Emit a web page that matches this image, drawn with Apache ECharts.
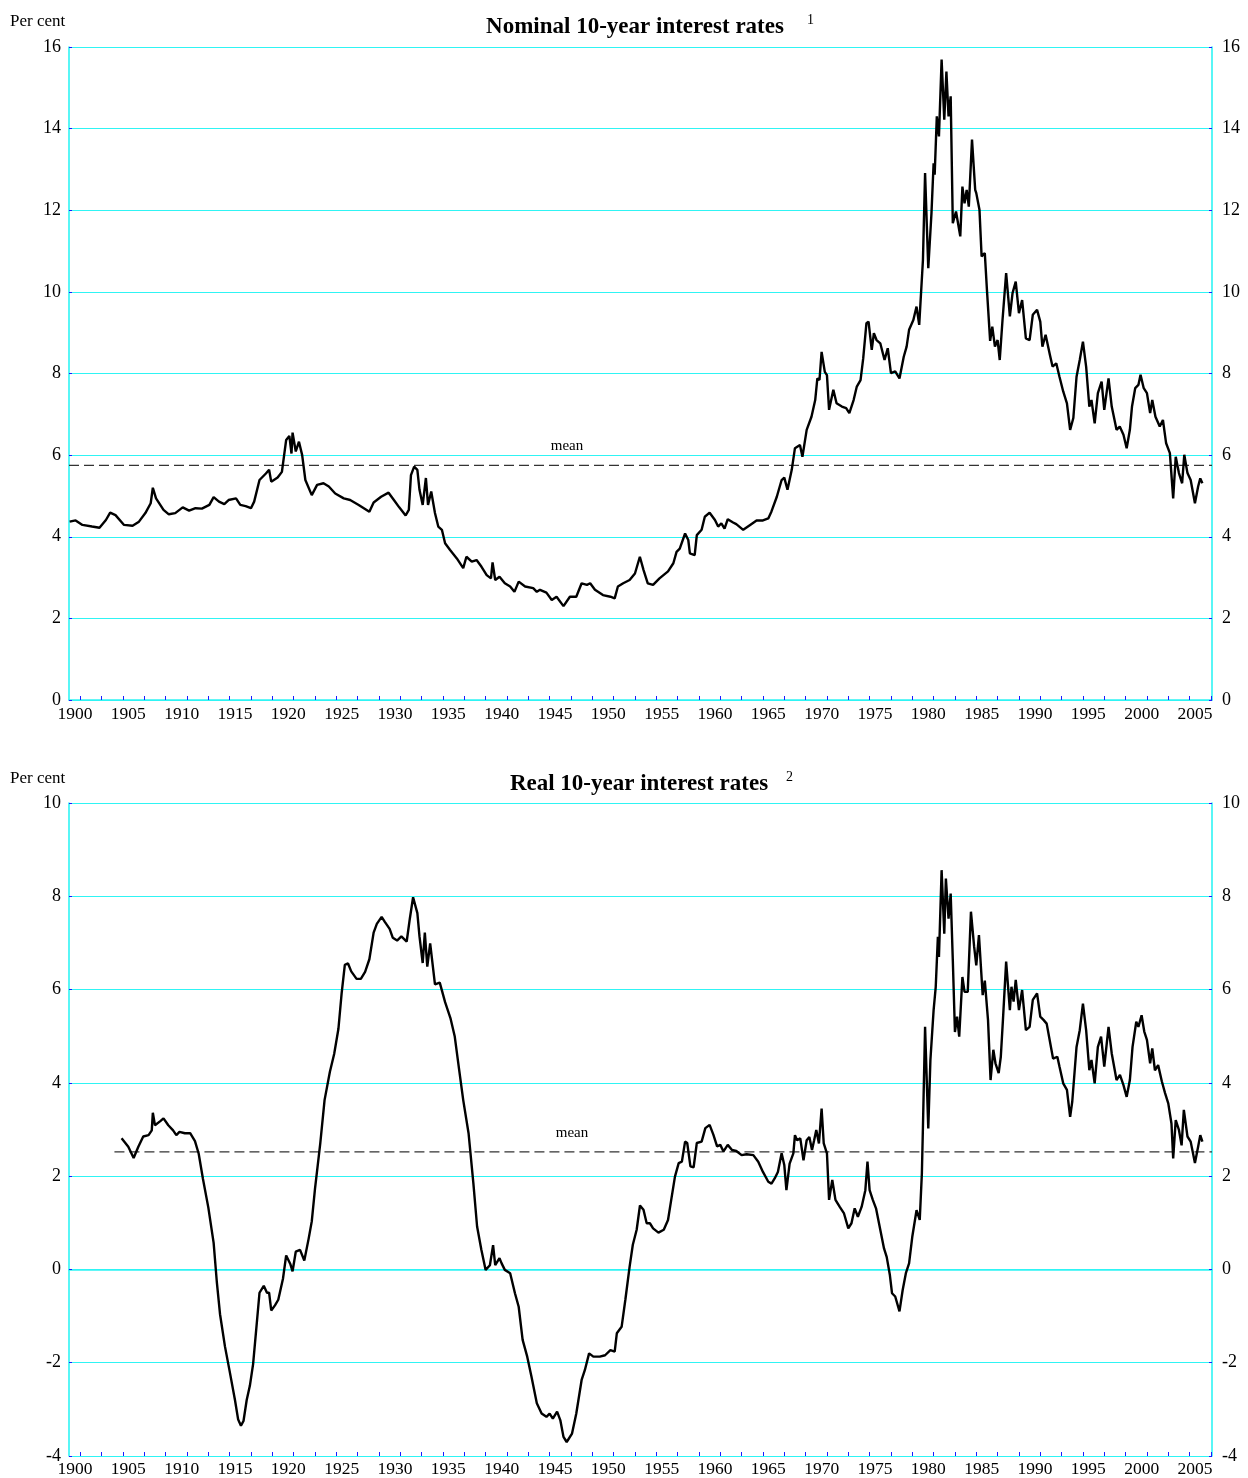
<!DOCTYPE html>
<html><head><meta charset="utf-8">
<script src="https://cdn.jsdelivr.net/npm/echarts@6/dist/echarts.min.js"></script>
<style>html,body{margin:0;padding:0;background:#fff}#c{width:1248px;height:1478px}</style>
</head><body><div id="c"></div>
<script>
// ---------- DATA ----------
const nominalYears = [1899.5,1900.06,1900.7,1901.6,1902.3,1902.9,1903.3,1903.8,1904.6,1905.4,1906.0,1906.6,1907.1,1907.3,1907.6,1908.3,1908.8,1909.4,1910.1,1910.7,1911.3,1911.9,1912.6,1913.0,1913.5,1914.0,1914.4,1915.1,1915.5,1916.0,1916.5,1916.8,1917.3,1917.9,1918.2,1918.4,1919.0,1919.4,1919.8,1920.1,1920.3,1920.4,1920.7,1921.0,1921.3,1921.6,1922.2,1922.7,1923.3,1923.8,1924.4,1925.2,1925.8,1926.6,1927.6,1928.0,1928.7,1929.4,1929.9,1930.4,1931.0,1931.3,1931.5,1931.8,1932.1,1932.3,1932.6,1932.9,1933.1,1933.4,1933.75,1934.06,1934.4,1934.7,1935.15,1935.8,1936.4,1936.7,1937.2,1937.65,1938.1,1938.6,1939.0,1939.15,1939.4,1939.8,1940.3,1940.8,1941.2,1941.6,1942.2,1942.96,1943.3,1943.6,1944.2,1944.7,1945.15,1945.8,1946.4,1947.0,1947.5,1948.0,1948.3,1948.75,1949.5,1950.2,1950.6,1950.9,1951.4,1952.0,1952.5,1952.96,1953.3,1953.7,1954.2,1954.8,1955.6,1956.1,1956.4,1956.7,1957.2,1957.5,1957.65,1958.1,1958.3,1958.75,1959.05,1959.5,1960.0,1960.3,1960.6,1960.9,1961.2,1961.7,1962.0,1962.65,1963.3,1963.9,1964.5,1965.0,1965.3,1965.8,1966.25,1966.5,1966.8,1967.2,1967.5,1967.97,1968.2,1968.6,1969.05,1969.4,1969.6,1969.8,1970.0,1970.3,1970.5,1970.7,1971.1,1971.4,1971.9,1972.3,1972.6,1973.0,1973.3,1973.65,1973.9,1974.2,1974.4,1974.7,1974.9,1975.15,1975.5,1975.9,1976.2,1976.5,1976.9,1977.3,1977.7,1977.97,1978.2,1978.6,1978.9,1979.15,1979.5,1979.7,1980.0,1980.3,1980.5,1980.6,1980.8,1981.0,1981.25,1981.5,1981.7,1981.9,1982.1,1982.3,1982.6,1983.0,1983.2,1983.4,1983.6,1983.8,1984.1,1984.4,1984.5,1984.8,1985.0,1985.3,1985.5,1985.8,1986.0,1986.25,1986.5,1986.7,1986.96,1987.3,1987.65,1987.9,1988.2,1988.5,1988.8,1989.15,1989.5,1989.8,1990.2,1990.5,1990.7,1991.0,1991.4,1991.65,1992.0,1992.3,1992.65,1993.0,1993.3,1993.6,1993.9,1994.2,1994.5,1994.8,1995.1,1995.3,1995.6,1995.9,1996.25,1996.5,1996.9,1997.2,1997.65,1997.95,1998.3,1998.6,1998.9,1999.1,1999.4,1999.7,1999.9,2000.2,2000.5,2000.8,2001.0,2001.3,2001.7,2002.0,2002.3,2002.65,2002.96,2003.2,2003.5,2003.8,2004.0,2004.3,2004.6,2005.0,2005.3,2005.5,2005.7];
const nominalRates = [4.37,4.40,4.29,4.25,4.22,4.41,4.59,4.53,4.29,4.27,4.37,4.58,4.82,5.20,4.94,4.66,4.55,4.58,4.72,4.64,4.70,4.69,4.78,4.97,4.86,4.80,4.90,4.94,4.78,4.75,4.70,4.86,5.39,5.55,5.64,5.35,5.45,5.59,6.37,6.47,6.04,6.55,6.09,6.33,6.00,5.39,5.02,5.27,5.31,5.23,5.06,4.94,4.90,4.78,4.61,4.84,4.98,5.08,4.90,4.72,4.52,4.66,5.51,5.72,5.64,5.15,4.78,5.44,4.78,5.11,4.58,4.25,4.17,3.84,3.68,3.47,3.23,3.51,3.39,3.43,3.27,3.06,2.98,3.37,2.94,3.02,2.86,2.78,2.65,2.90,2.78,2.74,2.65,2.70,2.63,2.45,2.53,2.30,2.53,2.53,2.86,2.82,2.86,2.70,2.57,2.53,2.49,2.78,2.86,2.94,3.10,3.51,3.19,2.86,2.82,2.98,3.15,3.35,3.63,3.71,4.08,3.92,3.59,3.55,4.04,4.17,4.49,4.59,4.41,4.25,4.33,4.20,4.43,4.35,4.31,4.17,4.29,4.40,4.40,4.45,4.62,4.98,5.39,5.45,5.15,5.64,6.17,6.25,5.96,6.62,6.94,7.35,7.88,7.84,8.53,8.04,7.96,7.11,7.60,7.27,7.19,7.15,7.03,7.35,7.68,7.84,8.37,9.23,9.27,8.58,8.99,8.82,8.74,8.33,8.62,8.01,8.05,7.88,8.41,8.66,9.07,9.31,9.64,9.19,10.78,12.91,10.58,11.93,13.15,12.87,14.30,13.81,15.69,14.22,15.40,14.30,14.79,11.68,11.97,11.36,12.58,12.17,12.50,12.09,13.73,12.50,12.42,12.01,10.87,10.95,10.05,8.80,9.15,8.66,8.82,8.33,9.31,10.46,9.40,9.97,10.25,9.48,9.80,8.86,8.82,9.44,9.56,9.27,8.66,8.95,8.46,8.17,8.25,7.92,7.56,7.27,6.62,6.91,7.92,8.33,8.78,8.17,7.19,7.35,6.78,7.52,7.80,7.11,7.88,7.19,6.62,6.70,6.50,6.17,6.62,7.19,7.64,7.72,7.97,7.64,7.52,7.03,7.35,6.94,6.70,6.86,6.29,6.05,4.94,5.96,5.56,5.31,6.01,5.56,5.39,4.82,5.23,5.43,5.31];

const realYears = [1904.37,1905.0,1905.5,1905.94,1906.4,1906.9,1907.2,1907.3,1907.5,1908.0,1908.3,1908.75,1909.2,1909.5,1909.8,1910.3,1910.8,1911.25,1911.6,1912.0,1912.5,1913.0,1913.3,1913.6,1914.06,1914.5,1915.0,1915.3,1915.56,1915.8,1916.1,1916.4,1916.7,1917.0,1917.3,1917.7,1918.0,1918.2,1918.4,1918.75,1919.06,1919.5,1919.8,1920.2,1920.4,1920.7,1921.1,1921.5,1921.9,1922.2,1922.5,1923.0,1923.4,1923.9,1924.3,1924.7,1925.0,1925.3,1925.6,1925.9,1926.4,1926.8,1927.2,1927.6,1928.0,1928.3,1928.75,1929.05,1929.5,1929.8,1930.2,1930.6,1931.1,1931.4,1931.7,1932.1,1932.3,1932.6,1932.8,1933.03,1933.3,1933.75,1934.2,1934.7,1935.2,1935.6,1936.0,1936.4,1936.9,1937.35,1937.7,1938.1,1938.5,1938.9,1939.2,1939.4,1939.8,1940.0,1940.3,1940.8,1941.25,1941.6,1941.97,1942.4,1942.8,1943.3,1943.75,1944.2,1944.5,1944.8,1945.2,1945.5,1945.8,1946.1,1946.6,1947.0,1947.5,1947.8,1948.2,1948.6,1949.2,1949.7,1950.2,1950.6,1950.8,1951.25,1951.6,1952.0,1952.3,1952.66,1952.97,1953.3,1953.6,1953.9,1954.2,1954.7,1955.2,1955.6,1955.9,1956.25,1956.6,1956.9,1957.2,1957.4,1957.7,1958.0,1958.3,1958.75,1959.1,1959.5,1959.85,1960.2,1960.5,1960.8,1961.2,1961.6,1962.0,1962.5,1962.97,1963.6,1964.06,1964.5,1965.0,1965.3,1965.6,1965.9,1966.0,1966.25,1966.5,1966.7,1967.0,1967.35,1967.5,1967.7,1968.0,1968.3,1968.6,1968.85,1969.1,1969.3,1969.5,1969.75,1970.0,1970.2,1970.5,1970.7,1971.0,1971.3,1971.7,1972.1,1972.5,1972.8,1973.1,1973.4,1973.75,1974.1,1974.3,1974.5,1974.8,1975.1,1975.5,1975.85,1976.1,1976.4,1976.6,1976.9,1977.3,1977.6,1977.9,1978.2,1978.5,1978.9,1979.2,1979.4,1979.5,1979.7,1980.0,1980.2,1980.5,1980.7,1980.9,1981.0,1981.25,1981.5,1981.65,1981.9,1982.1,1982.3,1982.5,1982.7,1982.9,1983.2,1983.4,1983.7,1984.0,1984.3,1984.5,1984.75,1985.1,1985.3,1985.6,1985.84,1986.1,1986.3,1986.6,1986.8,1987.0,1987.3,1987.65,1987.8,1988.0,1988.2,1988.5,1988.8,1989.15,1989.5,1989.8,1990.2,1990.5,1990.8,1991.1,1991.5,1991.7,1992.1,1992.3,1992.65,1993.0,1993.3,1993.5,1993.9,1994.2,1994.5,1994.8,1995.1,1995.3,1995.6,1995.9,1996.2,1996.5,1996.9,1997.2,1997.65,1997.97,1998.3,1998.6,1998.9,1999.15,1999.5,1999.7,2000.0,2000.25,2000.5,2000.8,2001.0,2001.25,2001.55,2001.9,2002.2,2002.5,2002.8,2002.96,2003.2,2003.5,2003.75,2003.96,2004.3,2004.6,2005.0,2005.3,2005.5,2005.7];
const realRates = [2.81,2.63,2.39,2.63,2.85,2.88,2.98,3.36,3.09,3.18,3.24,3.09,2.98,2.88,2.95,2.92,2.92,2.75,2.48,1.94,1.33,0.57,-0.27,-0.96,-1.65,-2.18,-2.80,-3.22,-3.35,-3.25,-2.80,-2.49,-2.03,-1.27,-0.50,-0.35,-0.50,-0.50,-0.88,-0.77,-0.65,-0.20,0.30,0.11,-0.04,0.38,0.42,0.19,0.65,1.03,1.72,2.71,3.63,4.24,4.62,5.16,5.92,6.53,6.56,6.39,6.23,6.23,6.38,6.65,7.22,7.41,7.56,7.45,7.30,7.11,7.05,7.14,7.03,7.53,7.98,7.64,7.14,6.57,7.22,6.49,6.99,6.11,6.15,5.73,5.39,5.00,4.31,3.63,2.92,1.85,0.92,0.42,-0.01,0.09,0.52,0.09,0.24,0.13,-0.01,-0.08,-0.51,-0.80,-1.51,-1.87,-2.30,-2.87,-3.09,-3.16,-3.09,-3.20,-3.05,-3.23,-3.59,-3.70,-3.52,-3.09,-2.37,-2.16,-1.80,-1.87,-1.87,-1.84,-1.73,-1.76,-1.37,-1.23,-0.65,0.06,0.53,0.85,1.37,1.28,0.99,0.99,0.88,0.79,0.85,1.06,1.49,1.99,2.28,2.31,2.74,2.71,2.21,2.19,2.71,2.74,3.03,3.10,2.89,2.64,2.67,2.53,2.67,2.56,2.54,2.45,2.47,2.45,2.31,2.09,1.88,1.84,1.95,2.09,2.13,2.49,2.24,1.70,2.27,2.49,2.88,2.77,2.81,2.34,2.77,2.84,2.56,2.77,2.99,2.70,3.45,2.70,2.49,1.49,1.92,1.49,1.34,1.20,0.88,0.99,1.31,1.13,1.34,1.70,2.31,1.70,1.49,1.31,0.85,0.45,0.27,-0.12,-0.51,-0.58,-0.90,-0.44,-0.08,0.13,0.70,1.27,1.06,2.06,3.06,5.20,3.02,4.49,5.56,6.06,7.13,6.70,8.56,7.20,8.38,7.52,8.06,6.63,5.09,5.42,4.99,6.27,5.95,5.95,7.67,6.92,6.52,7.17,5.88,6.19,5.35,4.06,4.71,4.42,4.21,4.56,5.35,6.60,5.56,6.06,5.74,6.21,5.56,5.99,5.13,5.20,5.78,5.92,5.42,5.35,5.27,4.77,4.52,4.56,4.35,3.99,3.85,3.27,3.60,4.77,5.13,5.70,5.13,4.27,4.49,3.99,4.77,4.99,4.35,5.20,4.63,4.06,4.17,3.95,3.70,4.06,4.77,5.31,5.20,5.45,5.10,4.92,4.42,4.74,4.27,4.38,4.03,3.78,3.56,3.13,2.38,3.20,2.99,2.66,3.42,2.85,2.74,2.28,2.63,2.88,2.74];

const nominalMean = 5.75;
const realMean = 2.52;
const nominalMeanSpan = [1899.44, 2006.6];
const realMeanSpan = [1903.7, 2006.6];
const xExtent = [1899.44, 2006.6];
const firstLabelYear = 1900;   // x tick labels every 5 years, 1900..2005
const lastLabelYear = 2005;
const nominalYRange = [0, 16];
const realYRange = [-4, 10];
const titles = ['Nominal 10-year interest rates', 'Real 10-year interest rates'];
const footnoteMarks = ['1', '2'];
const unitLabel = 'Per cent';
const meanLabel = 'mean';

// ---------- CHART ----------
const FONT = 'Liberation Serif, Times New Roman, serif';
const CYAN = '#2ff4f4';
const BLUE = '#1a1aff';
const zip = (xs, ys) => xs.map((x, i) => [x, ys[i]]);

const PX_PER_YEAR = 10.667;
const X1900 = 75;
const panelTop = [47, 803];
const panelH = 653;

const grids = [];
const xAxes = [];
const yAxes = [];
panelTop.forEach((top) => {
  grids.push({ left: 69, right: 36, top: top, height: panelH });
});
panelTop.forEach((top) => {
  grids.push({ left: X1900, right: 1248 - (X1900 + (lastLabelYear - firstLabelYear) * PX_PER_YEAR), top: top, height: panelH });
});
panelTop.forEach((top) => {
  const l = X1900 + 0.5 * PX_PER_YEAR;
  grids.push({ left: l, right: 1248 - (l + 106 * PX_PER_YEAR), top: top, height: panelH });
});

[0, 1].forEach(g => xAxes.push({
  gridIndex: g, type: 'value', min: xExtent[0], max: xExtent[1],
  axisLine: { show: true, lineStyle: { color: CYAN, width: 1.6 } },
  axisTick: { show: false }, axisLabel: { show: false }, splitLine: { show: false }
}));
[2, 3].forEach(g => xAxes.push({
  gridIndex: g, type: 'value', min: 0, max: lastLabelYear - firstLabelYear, interval: 5,
  axisLine: { show: false }, axisTick: { show: false }, splitLine: { show: false },
  axisLabel: { show: true, color: '#000', fontFamily: FONT, fontSize: 17.5, margin: 5,
    formatter: v => String(firstLabelYear + v) }
}));
[4, 5].forEach(g => xAxes.push({
  gridIndex: g, type: 'value', min: 0, max: 106, interval: 2,
  axisLine: { show: false }, axisLabel: { show: false }, splitLine: { show: false },
  axisTick: { show: true, inside: true, length: 4, lineStyle: { color: BLUE, width: 1 } }
}));

const ranges = [nominalYRange, realYRange];
[0, 1].forEach(g => {
  const r = ranges[g];
  yAxes.push({
    gridIndex: g, type: 'value', position: 'left', min: r[0], max: r[1], interval: 2,
    axisLine: { show: true, lineStyle: { color: CYAN, width: 1.6 } },
    axisTick: { show: true, inside: true, length: 3, lineStyle: { color: BLUE } },
    axisLabel: { color: '#000', fontFamily: FONT, fontSize: 18, margin: 8 },
    splitLine: { show: true, lineStyle: { color: CYAN, width: 1.2 } }
  });
  yAxes.push({
    gridIndex: g, type: 'value', position: 'right', min: r[0], max: r[1], interval: 2,
    axisLine: { show: true, lineStyle: { color: CYAN, width: 1.6 } },
    axisTick: { show: true, inside: true, length: 3, lineStyle: { color: BLUE } },
    axisLabel: { color: '#000', fontFamily: FONT, fontSize: 18, margin: 10 },
    splitLine: { show: false }
  });
});
[2, 3, 4, 5].forEach(g => yAxes.push({ gridIndex: g, type: 'value', min: 0, max: 1, show: false }));

const lineStyle = { color: '#000', width: 2.4 };
const dashStyle = { color: '#333', width: 1.3, type: [10, 5] };

const series = [
  { type: 'line', xAxisIndex: 0, yAxisIndex: 0, data: zip(nominalYears, nominalRates),
    showSymbol: false, symbol: 'none', lineStyle, z: 5 },
  { type: 'line', xAxisIndex: 0, yAxisIndex: 0,
    data: nominalMeanSpan.map(x => [x, nominalMean]), showSymbol: false, symbol: 'none', lineStyle: dashStyle, z: 4 },
  { type: 'line', xAxisIndex: 1, yAxisIndex: 2, data: zip(realYears, realRates),
    showSymbol: false, symbol: 'none', lineStyle, z: 5 },
  { type: 'line', xAxisIndex: 1, yAxisIndex: 2,
    data: realMeanSpan.map(x => [x, realMean]), showSymbol: false, symbol: 'none', lineStyle: dashStyle, z: 4 }
];

const txt = (x, y, text, size, opts) => Object.assign({
  type: 'text', x: x, y: y,
  style: Object.assign({ text: text, fill: '#000', font: size + 'px ' + FONT, textAlign: 'left', textVerticalAlign: 'middle' }, opts || {})
});

const graphic = [
  txt(10, 22, unitLabel, 17),
  txt(635, 27, titles[0], 23, { font: 'bold 23px ' + FONT, textAlign: 'center' }),
  txt(807, 20, footnoteMarks[0], 14),
  txt(567, 446, meanLabel, 15, { textAlign: 'center' }),
  txt(10, 779, unitLabel, 17),
  txt(639, 784, titles[1], 23, { font: 'bold 23px ' + FONT, textAlign: 'center' }),
  txt(786, 777, footnoteMarks[1], 14),
  txt(572, 1133, meanLabel, 15, { textAlign: 'center' })
];

const chart = echarts.init(document.getElementById('c'), null, { renderer: 'canvas' });
chart.setOption({
  animation: false,
  backgroundColor: '#fff',
  grid: grids, xAxis: xAxes, yAxis: yAxes, series: series, graphic: graphic
});
</script></body></html>
